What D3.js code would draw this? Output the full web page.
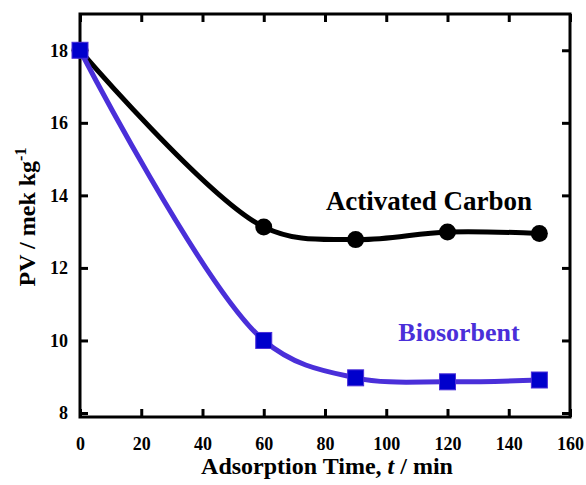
<!DOCTYPE html>
<html>
<head>
<meta charset="utf-8">
<script src="https://cdn.jsdelivr.net/npm/d3@7"></script>
<style>
  body { margin: 0; background: #fff; }
  text { font-family: "Liberation Serif", "Times New Roman", serif; font-weight: bold; }
</style>
</head>
<body>
<div id="chart"></div>
<script>
// data
var times = [0, 60, 90, 120, 150];
var carbonPV = [18.0, 13.13, 12.78, 12.99, 12.95];
var bioPV = [18.0, 10.0, 8.97, 8.86, 8.91];
var xTicks = [0, 20, 40, 60, 80, 100, 120, 140, 160];
var yTicks = [8, 10, 12, 14, 16, 18];

var w = 586, h = 485;
var mLeft = 80, mRight = 570, mTop = 14, mBottom = 417;

var svg = d3.select("#chart").append("svg")
    .attr("width", w)
    .attr("height", h);

var x = d3.scaleLinear().domain([0, 160]).range([mLeft, mRight]);
var y = d3.scaleLinear().domain([7.89, 19.0]).range([mBottom, mTop]);

// axes - ticks point inward on all four sides
var tickLen = 8;
function axisStyle(g) {
    g.select(".domain").remove();
    g.selectAll("line").attr("stroke", "#000").attr("stroke-width", 3);
    g.selectAll("text").attr("font-size", "18px").attr("fill", "#000");
}

svg.append("g")
    .attr("transform", "translate(0," + mBottom + ")")
    .call(d3.axisBottom(x).tickValues(xTicks).tickSize(-tickLen).tickPadding(20))
    .call(axisStyle);

svg.append("g")
    .attr("transform", "translate(0," + mTop + ")")
    .call(d3.axisTop(x).tickValues(xTicks).tickSize(-tickLen).tickFormat(""))
    .call(axisStyle);

svg.append("g")
    .attr("transform", "translate(" + mLeft + ",0)")
    .call(d3.axisLeft(y).tickValues(yTicks).tickSize(-tickLen).tickPadding(12))
    .call(axisStyle);

svg.append("g")
    .attr("transform", "translate(" + mRight + ",0)")
    .call(d3.axisRight(y).tickValues(yTicks).tickSize(-tickLen).tickFormat(""))
    .call(axisStyle);

// frame
svg.append("rect")
    .attr("x", mLeft)
    .attr("y", mTop)
    .attr("width", mRight - mLeft)
    .attr("height", mBottom - mTop)
    .attr("fill", "none")
    .attr("stroke", "#000")
    .attr("stroke-width", 3);

// smoothed lines through the points
var line = d3.line()
    .x(function(d) { return x(d[0]); })
    .y(function(d) { return y(d[1]); })
    .curve(d3.curveCatmullRom.alpha(0.5));

var carbon = times.map(function(t, i) { return [t, carbonPV[i]]; });
var bio = times.map(function(t, i) { return [t, bioPV[i]]; });

svg.append("path")
    .attr("d", line(carbon))
    .attr("fill", "none")
    .attr("stroke", "#000")
    .attr("stroke-width", 5);

svg.append("path")
    .attr("d", line(bio))
    .attr("fill", "none")
    .attr("stroke", "#4a2fd9")
    .attr("stroke-width", 5);

svg.selectAll(".dot")
    .data(carbon)
    .enter()
    .append("circle")
    .attr("cx", function(d) { return x(d[0]); })
    .attr("cy", function(d) { return y(d[1]); })
    .attr("r", 8.5)
    .attr("fill", "#000");

var sq = 16;
svg.selectAll(".sq")
    .data(bio)
    .enter()
    .append("rect")
    .attr("x", function(d) { return x(d[0]) - sq / 2; })
    .attr("y", function(d) { return y(d[1]) - sq / 2; })
    .attr("width", sq)
    .attr("height", sq)
    .attr("fill", "#0000cc")
    .attr("stroke", "#4a2fd9")
    .attr("stroke-width", 1);

// series labels
svg.append("text")
    .attr("x", 429)
    .attr("y", 210)
    .attr("text-anchor", "middle")
    .attr("font-size", "27px")
    .attr("fill", "#000")
    .text("Activated Carbon");

svg.append("text")
    .attr("x", 459)
    .attr("y", 341)
    .attr("text-anchor", "middle")
    .attr("font-size", "26px")
    .attr("fill", "#4a2fd9")
    .text("Biosorbent");

// axis titles
var xt = svg.append("text")
    .attr("x", 327)
    .attr("y", 474)
    .attr("text-anchor", "middle")
    .attr("font-size", "24px")
    .attr("fill", "#000");
xt.append("tspan").text("Adsorption Time, ");
xt.append("tspan").attr("font-style", "italic").text("t");
xt.append("tspan").text(" / min");

var yt = svg.append("text")
    .attr("transform", "translate(35,217)rotate(-90)")
    .attr("text-anchor", "middle")
    .attr("font-size", "24px")
    .attr("fill", "#000");
yt.append("tspan").text("PV / mek kg");
yt.append("tspan").attr("dy", -9).attr("font-size", "16px").text("-1");
</script>
</body>
</html>
